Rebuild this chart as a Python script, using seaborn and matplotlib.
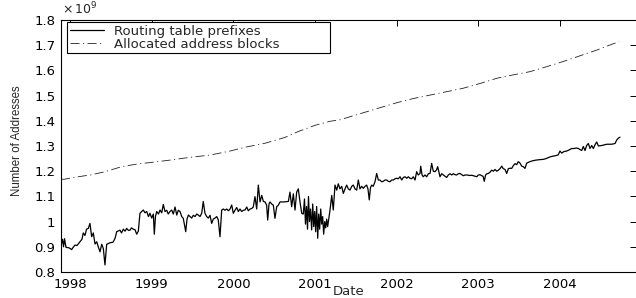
import matplotlib
matplotlib.use("Agg")
import matplotlib.pyplot as plt
import seaborn as sns
import pandas as pd
from matplotlib.ticker import FixedLocator, FixedFormatter

# values (x in decimal years, y in units of 1e9 addresses)
routing_year = [
    1997.886, 1997.904, 1997.917, 1997.929, 1997.947, 1997.984, 1998.017, 1998.033,
    1998.058, 1998.082, 1998.119, 1998.143, 1998.159, 1998.180, 1998.199, 1998.221,
    1998.241, 1998.262, 1998.282, 1998.303, 1998.324, 1998.343, 1998.364, 1998.385,
    1998.405, 1998.425, 1998.446, 1998.487, 1998.523, 1998.548, 1998.569, 1998.609,
    1998.628, 1998.650, 1998.671, 1998.691, 1998.713, 1998.732, 1998.750, 1998.772,
    1998.793, 1998.814, 1998.834, 1998.854, 1998.875, 1998.895, 1998.916, 1998.937,
    1998.958, 1998.977, 1998.998, 1999.018, 1999.030, 1999.044, 1999.059, 1999.081,
    1999.100, 1999.121, 1999.140, 1999.161, 1999.182, 1999.201, 1999.222, 1999.243,
    1999.263, 1999.284, 1999.305, 1999.324, 1999.345, 1999.366, 1999.385, 1999.415,
    1999.431, 1999.447, 1999.467, 1999.488, 1999.508, 1999.529, 1999.550, 1999.569,
    1999.590, 1999.611, 1999.630, 1999.651, 1999.672, 1999.692, 1999.713, 1999.733,
    1999.753, 1999.774, 1999.795, 1999.814, 1999.835, 1999.856, 1999.876, 1999.897,
    1999.917, 1999.939, 1999.958, 1999.979, 1999.998, 2000.019, 2000.040, 2000.060,
    2000.080, 2000.101, 2000.121, 2000.142, 2000.163, 2000.182, 2000.203, 2000.224,
    2000.243, 2000.264, 2000.285, 2000.305, 2000.326, 2000.347, 2000.367, 2000.387,
    2000.407, 2000.420, 2000.436, 2000.448, 2000.469, 2000.489, 2000.509, 2000.530,
    2000.550, 2000.571, 2000.595, 2000.616, 2000.641, 2000.673, 2000.693, 2000.714,
    2000.734, 2000.755, 2000.775, 2000.795, 2000.816, 2000.837, 2000.856, 2000.871,
    2000.883, 2000.896, 2000.908, 2000.920, 2000.932, 2000.945, 2000.959, 2000.972,
    2000.984, 2000.996, 2001.008, 2001.020, 2001.033, 2001.045, 2001.057, 2001.070,
    2001.082, 2001.094, 2001.106, 2001.119, 2001.131, 2001.143, 2001.155, 2001.163,
    2001.184, 2001.205, 2001.224, 2001.245, 2001.266, 2001.285, 2001.306, 2001.327,
    2001.347, 2001.368, 2001.388, 2001.408, 2001.429, 2001.450, 2001.469, 2001.490,
    2001.511, 2001.531, 2001.551, 2001.572, 2001.592, 2001.613, 2001.633, 2001.649,
    2001.665, 2001.680, 2001.695, 2001.714, 2001.735, 2001.756, 2001.776, 2001.796,
    2001.817, 2001.837, 2001.858, 2001.878, 2001.898, 2001.919, 2001.940, 2001.960,
    2001.981, 2002.001, 2002.021, 2002.042, 2002.063, 2002.082, 2002.103, 2002.124,
    2002.144, 2002.164, 2002.185, 2002.205, 2002.226, 2002.246, 2002.266, 2002.287,
    2002.296, 2002.312, 2002.327, 2002.348, 2002.369, 2002.389, 2002.410, 2002.430,
    2002.450, 2002.471, 2002.489, 2002.504, 2002.532, 2002.553, 2002.573, 2002.594,
    2002.614, 2002.634, 2002.655, 2002.676, 2002.696, 2002.717, 2002.737, 2002.757,
    2002.778, 2002.799, 2002.819, 2002.839, 2002.860, 2002.879, 2002.900, 2002.921,
    2002.941, 2002.962, 2002.983, 2003.002, 2003.023, 2003.044, 2003.060, 2003.075,
    2003.091, 2003.108, 2003.124, 2003.145, 2003.166, 2003.186, 2003.207, 2003.227,
    2003.247, 2003.268, 2003.289, 2003.308, 2003.329, 2003.350, 2003.370, 2003.390,
    2003.411, 2003.431, 2003.452, 2003.473, 2003.492, 2003.513, 2003.534, 2003.553,
    2003.574, 2003.595, 2003.615, 2003.635, 2003.656, 2003.676, 2003.709, 2003.758,
    2003.799, 2003.832, 2003.860, 2003.893, 2003.921, 2003.954, 2003.982, 2004.003,
    2004.024, 2004.052, 2004.085, 2004.113, 2004.146, 2004.174, 2004.207, 2004.229,
    2004.249, 2004.269, 2004.289, 2004.310, 2004.330, 2004.351, 2004.371, 2004.392,
    2004.412, 2004.433, 2004.453, 2004.474, 2004.515, 2004.576, 2004.637, 2004.678,
    2004.699, 2004.718, 2004.739,
]
routing_value = [
    0.905, 0.930, 0.900, 0.932, 0.898, 0.896, 0.889, 0.897,
    0.907, 0.905, 0.920, 0.930, 0.955, 0.945, 0.970, 0.973,
    0.993, 0.940, 0.955, 0.911, 0.920, 0.900, 0.880, 0.910,
    0.893, 0.828, 0.910, 0.916, 0.918, 0.933, 0.960, 0.966,
    0.955, 0.970, 0.962, 0.973, 0.965, 0.966, 0.975, 0.970,
    0.968, 0.950, 0.962, 1.033, 1.040, 1.046, 1.035, 1.040,
    1.020, 1.033, 1.014, 1.030, 0.950, 1.020, 1.040, 1.030,
    1.046, 1.035, 1.068, 1.040, 1.045, 1.030, 1.040, 1.046,
    1.030, 1.058, 1.026, 1.045, 1.040, 1.020, 1.013, 0.960,
    1.010, 1.026, 1.020, 1.014, 1.025, 1.020, 1.030, 1.026,
    1.020, 1.033, 1.080, 1.033, 1.020, 1.014, 1.025, 0.993,
    1.010, 1.014, 1.020, 1.007, 0.940, 1.046, 1.050, 1.045,
    1.050, 1.043, 1.050, 1.066, 1.033, 1.045, 1.056, 1.040,
    1.050, 1.040, 1.045, 1.046, 1.058, 1.043, 1.050, 1.052,
    1.058, 1.099, 1.050, 1.145, 1.078, 1.104, 1.080, 1.078,
    1.065, 1.006, 1.070, 1.078, 1.070, 1.065, 1.013, 1.059,
    1.065, 1.078, 1.078, 1.078, 1.079, 1.080, 1.117, 1.059,
    1.110, 1.046, 1.117, 1.130, 1.078, 1.033, 1.030, 1.090,
    0.990, 1.060, 0.970, 1.100, 1.000, 1.050, 0.967, 1.070,
    0.980, 1.040, 0.960, 1.060, 0.934, 1.030, 0.970, 1.050,
    0.990, 1.020, 0.950, 1.000, 0.975, 1.010, 0.980, 0.999,
    1.046, 1.104, 1.046, 1.145, 1.125, 1.150, 1.130, 1.140,
    1.112, 1.130, 1.145, 1.130, 1.125, 1.140, 1.145, 1.130,
    1.125, 1.165, 1.130, 1.140, 1.132, 1.140, 1.145, 1.130,
    1.086, 1.135, 1.145, 1.140, 1.158, 1.191, 1.165, 1.165,
    1.158, 1.160, 1.165, 1.165, 1.160, 1.158, 1.165, 1.165,
    1.170, 1.172, 1.170, 1.178, 1.165, 1.175, 1.178, 1.172,
    1.178, 1.172, 1.170, 1.178, 1.165, 1.198, 1.185, 1.191,
    1.220, 1.185, 1.178, 1.185, 1.178, 1.190, 1.191, 1.231,
    1.200, 1.198, 1.205, 1.218, 1.178, 1.190, 1.185, 1.180,
    1.175, 1.185, 1.190, 1.185, 1.190, 1.186, 1.185, 1.190,
    1.191, 1.186, 1.182, 1.185, 1.185, 1.184, 1.183, 1.184,
    1.182, 1.180, 1.178, 1.185, 1.186, 1.182, 1.180, 1.160,
    1.185, 1.190, 1.191, 1.196, 1.204, 1.200, 1.207, 1.200,
    1.204, 1.210, 1.220, 1.210, 1.207, 1.191, 1.210, 1.212,
    1.211, 1.222, 1.230, 1.226, 1.238, 1.232, 1.220, 1.218,
    1.211, 1.232, 1.235, 1.238, 1.240, 1.242, 1.244, 1.246,
    1.247, 1.250, 1.254, 1.258, 1.260, 1.262, 1.265, 1.280,
    1.272, 1.278, 1.280, 1.284, 1.290, 1.290, 1.292, 1.290,
    1.286, 1.282, 1.298, 1.282, 1.302, 1.310, 1.290, 1.302,
    1.290, 1.305, 1.316, 1.300, 1.302, 1.307, 1.307, 1.310,
    1.324, 1.331, 1.335,
]

alloc_year = [
    1997.886, 1997.926, 1998.058, 1998.262, 1998.425, 1998.630, 1998.830, 1998.998,
    1999.222, 1999.467, 1999.713, 1999.958, 2000.142, 2000.387, 2000.632, 2000.791,
    2001.000, 2001.184, 2001.306, 2001.551, 2001.797, 2002.005, 2002.201, 2002.410,
    2002.606, 2002.814, 2003.023, 2003.231, 2003.427, 2003.635, 2003.832, 2004.040,
    2004.249, 2004.457, 2004.592, 2004.727,
]
alloc_value = [
    1.168, 1.168, 1.176, 1.186, 1.198, 1.218, 1.229, 1.235,
    1.244, 1.255, 1.264, 1.280, 1.295, 1.311, 1.334, 1.357,
    1.382, 1.398, 1.404, 1.428, 1.452, 1.472, 1.488, 1.502,
    1.515, 1.529, 1.548, 1.569, 1.582, 1.595, 1.614, 1.635,
    1.658, 1.681, 1.698, 1.714,
]

year_ticks = [1998, 1999, 2000, 2001, 2002, 2003, 2004]
y_ticks = [0.8, 0.9, 1.0, 1.1, 1.2, 1.3, 1.4, 1.5, 1.6, 1.7, 1.8]
y_tick_labels = ["0.8", "0.9", "1", "1.1", "1.2", "1.3", "1.4", "1.5", "1.6", "1.7", "1.8"]

routing = pd.DataFrame({"Date": routing_year, "Addresses": routing_value})
alloc = pd.DataFrame({"Date": alloc_year, "Addresses": alloc_value})

sns.set_style("white")
plt.rcParams["font.family"] = ["DejaVu Sans"]
plt.rcParams["lines.scale_dashes"] = False
plt.rcParams["axes.linewidth"] = 0.8

fig = plt.figure(figsize=(6.36, 2.98), dpi=100)
ax = fig.add_axes([61 / 636, 26 / 298, 575 / 636, 252 / 298])

sns.lineplot(data=routing, x="Date", y="Addresses", ax=ax, color="black",
             linewidth=0.9, estimator=None, sort=False,
             label="Routing table prefixes")
sns.lineplot(data=alloc, x="Date", y="Addresses", ax=ax, color="#222222",
             linewidth=0.6, estimator=None, sort=False,
             linestyle=(0, (6.5, 2.5, 0.8, 2.5)),
             label="Allocated address blocks")

ax.set_xlim(1997.886, 2004.935)
ax.set_ylim(0.8, 1.8)
ax.xaxis.set_major_locator(FixedLocator(year_ticks))
ax.xaxis.set_major_formatter(FixedFormatter([str(y) for y in year_ticks]))
ax.yaxis.set_major_locator(FixedLocator(y_ticks))
ax.yaxis.set_major_formatter(FixedFormatter(y_tick_labels))
ax.tick_params(which="both", direction="in", top=True, right=True,
               length=4.3, width=0.7, labelsize=9.5, pad=4, colors="black")
for side in ["left", "bottom", "top"]:
    ax.spines[side].set_color("black")
ax.spines["right"].set_visible(False)

ax.set_xlabel("Date", fontsize=9.5)
ax.xaxis.set_label_coords(0.5, -0.052)
ax.set_ylabel("Number of Addresses", fontsize=8.3, family=["Liberation Sans"])
ax.yaxis.set_label_coords(-0.066, 0.52)

fig.text(62 / 636, 1 - 17 / 298, r"$\times\,10^{9}$", fontsize=9,
         ha="left", va="bottom")

leg = ax.legend(loc="upper left", bbox_to_anchor=(0.0104, 0.881, 0.457, 0.111),
                mode="expand", borderaxespad=0, fontsize=9.5, frameon=True,
                fancybox=False, framealpha=1, edgecolor="black",
                borderpad=0.2, labelspacing=0.0, handlelength=2.6,
                handletextpad=0.8)
leg.get_frame().set_linewidth(0.8)

fig.savefig("out.png", dpi=100)
